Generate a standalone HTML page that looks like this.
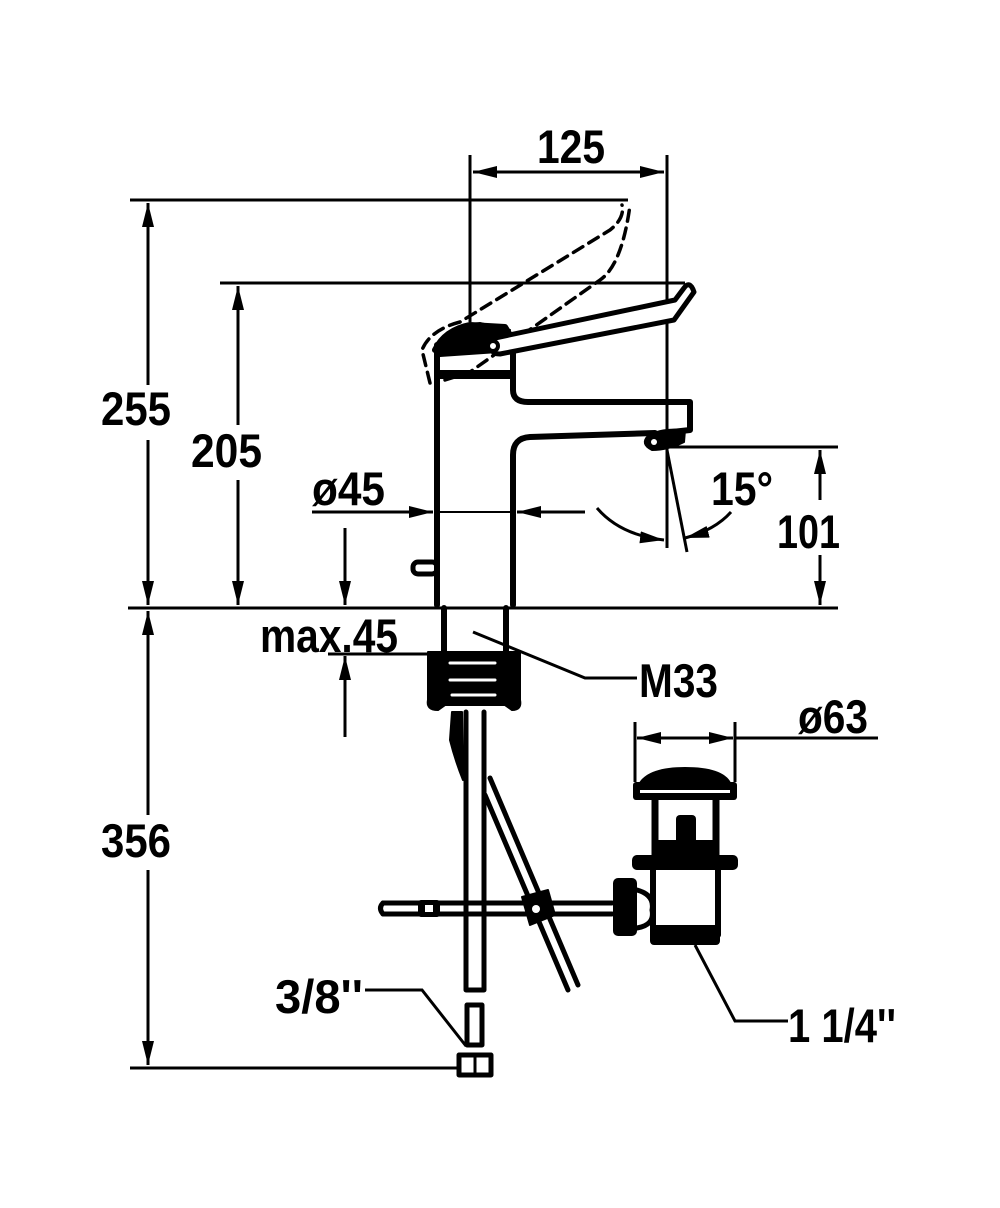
<!DOCTYPE html>
<html><head><meta charset="utf-8"><style>
html,body{margin:0;padding:0;background:#fff}
svg{display:block}
text{font-family:"Liberation Sans",sans-serif;font-weight:bold;fill:#000}
</style></head><body>
<svg width="1000" height="1208" viewBox="0 0 1000 1208" xmlns="http://www.w3.org/2000/svg">
<defs>
<marker id="b" viewBox="0 0 24 12" refX="24" refY="6" markerWidth="24" markerHeight="12" markerUnits="userSpaceOnUse" orient="auto-start-reverse">
<path d="M0,0 L24,6 L0,12 Z" fill="#000"/></marker>
</defs>
<g stroke="#000" stroke-width="3" fill="none">
<line x1="130" y1="200" x2="628" y2="200"/>
<line x1="220" y1="283" x2="685" y2="283"/>
<line x1="128" y1="608" x2="838" y2="608"/>
<line x1="130" y1="1068" x2="460" y2="1068"/>
<line x1="470" y1="155" x2="470" y2="322"/>
<line x1="667" y1="155" x2="667" y2="548"/>
<line x1="668" y1="447" x2="838" y2="447"/>
<line x1="148" y1="203" x2="148" y2="385" marker-start="url(#b)"/>
<line x1="148" y1="440" x2="148" y2="605" marker-end="url(#b)"/>
<line x1="148" y1="611" x2="148" y2="815" marker-start="url(#b)"/>
<line x1="148" y1="870" x2="148" y2="1065" marker-end="url(#b)"/>
<line x1="238" y1="286" x2="238" y2="425" marker-start="url(#b)"/>
<line x1="238" y1="480" x2="238" y2="605" marker-end="url(#b)"/>
<line x1="473" y1="172" x2="664" y2="172" marker-start="url(#b)" marker-end="url(#b)"/>
<line x1="820" y1="450" x2="820" y2="500" marker-start="url(#b)"/>
<line x1="820" y1="555" x2="820" y2="605" marker-end="url(#b)"/>
<line x1="312" y1="512" x2="433" y2="512" marker-end="url(#b)"/>
<line x1="585" y1="512" x2="517" y2="512" marker-end="url(#b)"/>
<line x1="435" y1="512" x2="515" y2="512" stroke-width="2"/>
<path d="M597,508 Q620,535 664,540" marker-end="url(#b)"/>
<path d="M731,512 Q715,530 685,538" marker-end="url(#b)"/>
<line x1="667" y1="450" x2="687" y2="552"/>
<line x1="345" y1="528" x2="345" y2="605" marker-end="url(#b)"/>
<line x1="345" y1="737" x2="345" y2="656" marker-end="url(#b)"/>
<line x1="328" y1="654" x2="440" y2="654"/>
<polyline points="473,632 585,678 637,678"/>
<line x1="635" y1="722" x2="635" y2="782"/>
<line x1="735" y1="722" x2="735" y2="782"/>
<line x1="670" y1="738" x2="637" y2="738" marker-end="url(#b)"/>
<line x1="700" y1="738" x2="733" y2="738" marker-end="url(#b)"/>
<line x1="670" y1="738" x2="700" y2="738"/>
<line x1="735" y1="738" x2="878" y2="738"/>
<polyline points="695,945 735,1021 788,1021"/>
<polyline points="365,990 422,990 466,1046"/>
</g>

<g stroke="#000" fill="none" stroke-linecap="round" stroke-linejoin="round">
<path d="M430,383 L422,350 Q430,330 460,322 L610,230 Q625,218 622,205 M445,380 L470,372 L600,280 Q622,265 630,205" stroke-width="3.5" stroke-dasharray="11,7"/>
<path d="M437,605 L437,345 M513,605 L513,455 Q513,438 530,437 L655,433" stroke-width="6"/>
<path d="M513,360 L513,390 Q513,402 528,402 L690,402 L690,430 L672,432" stroke-width="6"/>
<rect x="437" y="370" width="76" height="9" fill="#000" stroke="none"/>
<path d="M435,350 Q445,330 470,325 L505,327 L513,340 L513,365" stroke-width="6"/>
<path d="M437,345 Q448,325 480,323 L510,330 L498,352 L440,356 Z" fill="#000" stroke-width="2"/>
<path d="M495,338 L675,300 L684,288 Q690,280 694,292 L674,320 L500,354 Q488,354 492,340" stroke-width="5" fill="#fff"/>
<circle cx="493" cy="346" r="5" stroke-width="4" fill="#fff"/>
<path d="M648,436 Q660,428 685,430 L684,442 Q668,450 652,450 Q640,444 648,436 Z" fill="#000" stroke-width="2"/>
<circle cx="654" cy="442" r="3" fill="#fff" stroke="none"/>
<rect x="413" y="562" width="24" height="12" rx="5" stroke-width="5"/>
<path d="M444,608 L444,652 M506,608 L506,652" stroke-width="6"/>
<path d="M428,652 L520,652 L520,700 Q522,710 512,710 L505,705 L445,705 L438,710 Q426,710 428,700 Z" fill="#000" stroke-width="2"/>
<path d="M450,663 L495,663 M450,680 L495,680 M452,695 L495,695" stroke="#fff" stroke-width="3"/>
<path d="M466,712 L466,990 L484,990 L484,712" stroke-width="5"/>
<path d="M452,712 L462,712 L463,780 Q455,760 450,740 Z" fill="#000" stroke-width="2"/>
<path d="M467,1005 L482,1005 L482,1045 L467,1045 Z" stroke-width="5"/>
<rect x="459" y="1055" width="32" height="20" stroke-width="5"/>
<line x1="475" y1="1055" x2="475" y2="1075" stroke-width="3"/>
<path d="M485,795 L568,990 M490,778 L578,985" stroke-width="5"/>
<path d="M383,903 L612,903 M383,914 L612,914" stroke-width="5"/>
<path d="M383,903 Q378,908 383,914" stroke-width="5"/>
<rect x="418" y="900" width="22" height="17" rx="3" fill="#000" stroke="none"/>
<rect x="425" y="905" width="8" height="7" fill="#fff" stroke="none"/>
<path d="M522,897 L548,890 L555,915 L530,925 Z" fill="#000" stroke-width="2"/>
<circle cx="536" cy="909" r="4" fill="#fff" stroke="none"/>
<rect x="613" y="878" width="24" height="58" rx="5" fill="#000" stroke="none"/>
<path d="M637,890 Q655,895 652,910 Q655,925 637,928" stroke-width="5"/>
<path d="M640,783 Q650,768 685,768 Q722,768 730,783 Z" fill="#000" stroke-width="2"/>
<rect x="633" y="782" width="104" height="18" rx="3" fill="#000" stroke="none"/>
<rect x="640" y="790" width="90" height="3" fill="#fff" stroke="none"/>
<path d="M655,800 L655,858 M716,800 L716,858" stroke-width="7"/>
<rect x="676" y="815" width="20" height="30" rx="4" fill="#000" stroke="none"/>
<rect x="655" y="840" width="62" height="16" fill="#000" stroke="none"/>
<rect x="632" y="855" width="106" height="15" rx="5" fill="#000" stroke="none"/>
<path d="M653,870 L653,935 M718,870 L718,935" stroke-width="6"/>
<rect x="650" y="925" width="70" height="20" rx="4" fill="#000" stroke="none"/>
</g>

<text x="101" y="425" font-size="47" textLength="70" lengthAdjust="spacingAndGlyphs">255</text>
<text x="191" y="467" font-size="47" textLength="71" lengthAdjust="spacingAndGlyphs">205</text>
<text x="537" y="163" font-size="47" textLength="68" lengthAdjust="spacingAndGlyphs">125</text>
<text x="312" y="505" font-size="47" textLength="73" lengthAdjust="spacingAndGlyphs">ø45</text>
<text x="711" y="505" font-size="47" textLength="62" lengthAdjust="spacingAndGlyphs">15°</text>
<text x="777" y="548" font-size="47" textLength="63" lengthAdjust="spacingAndGlyphs">101</text>
<text x="260" y="652" font-size="47" textLength="138" lengthAdjust="spacingAndGlyphs">max.45</text>
<text x="639" y="697" font-size="47" textLength="79" lengthAdjust="spacingAndGlyphs">M33</text>
<text x="798" y="733" font-size="47" textLength="70" lengthAdjust="spacingAndGlyphs">ø63</text>
<text x="101" y="857" font-size="47" textLength="70" lengthAdjust="spacingAndGlyphs">356</text>
<text x="275" y="1013" font-size="47" textLength="88" lengthAdjust="spacingAndGlyphs">3/8''</text>
<text x="788" y="1042" font-size="47" textLength="108" lengthAdjust="spacingAndGlyphs">1 1/4''</text>
</svg>
</body></html>
